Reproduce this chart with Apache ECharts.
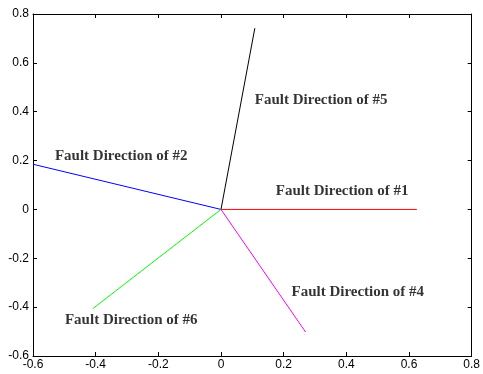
<!DOCTYPE html>
<html><head><meta charset="utf-8">
<script src="https://cdn.jsdelivr.net/npm/echarts@6/dist/echarts.min.js"></script>
<style>html,body{margin:0;padding:0;background:#fff}#c{width:483px;height:374px}</style>
</head><body><div id="c"></div>
<script>
var names = ['Fault Direction of #1','Fault Direction of #2','Fault Direction of #4','Fault Direction of #5','Fault Direction of #6'];
var colors = ['#ff0000','#0000ff','#ff00ff','#000000','#00ff00'];
var endX = [0.625, -0.6, 0.27, 0.108, -0.409];
var endY = [0, 0.185, -0.502, 0.742, -0.406];
var labelX = [0.175, -0.53, 0.225, 0.108, -0.498];
var labelY = [0.075, 0.219, -0.338, 0.448, -0.453];
var xTicks = [-0.6,-0.4,-0.2,0,0.2,0.4,0.6,0.8];
var yTicks = [-0.6,-0.4,-0.2,0,0.2,0.4,0.6,0.8];

var chart = echarts.init(document.getElementById('c'));
var fmt = function(v){ return Math.abs(v) < 1e-9 ? '0' : (+v.toFixed(1)).toString(); };
var axLine = {show:true, onZero:false, lineStyle:{color:'#000', width:1}};
var axTick = {show:true, inside:true, length:4, lineStyle:{color:'#000'}};
var axLabel = {color:'#000', fontFamily:'Liberation Sans, Arial', fontSize:12, formatter: fmt};
function mkX(pos, show){ return {type:'value', min:xTicks[0], max:xTicks[xTicks.length-1], interval:0.2, position:pos,
  axisLine:axLine, axisTick:axTick, axisLabel: show ? Object.assign({margin:3}, axLabel) : {show:false}, splitLine:{show:false}}; }
function mkY(pos, show){ return {type:'value', min:yTicks[0], max:yTicks[yTicks.length-1], interval:0.2, position:pos,
  axisLine:axLine, axisTick:axTick, axisLabel: show ? Object.assign({margin:4}, axLabel) : {show:false}, splitLine:{show:false}}; }

var series = [];
for (var i=0;i<names.length;i++){
  series.push({type:'line', xAxisIndex:0, yAxisIndex:0, data:[[0,0],[endX[i],endY[i]]], showSymbol:false, symbol:'none',
    color: colors[i], lineStyle:{color:colors[i], width:1}, silent:true, animation:false});
}
series.push({type:'scatter', xAxisIndex:0, yAxisIndex:0, symbolSize:0, animation:false, silent:true,
  data: names.map(function(n,i){ return {value:[labelX[i], labelY[i]], name:n}; }),
  label:{show:true, position:'right', distance:0, formatter:function(p){return p.name;}, color:'#000',
    fontFamily:'Liberation Serif, Times New Roman, serif', fontWeight:'bold', fontSize:15}});

chart.setOption({
  animation:false,
  grid:{left:33, top:14, right:9, bottom:18, containLabel:false},
  xAxis:[mkX('bottom', true), mkX('top', false)],
  yAxis:[mkY('left', true), mkY('right', false)],
  series: series
});
</script></body></html>
